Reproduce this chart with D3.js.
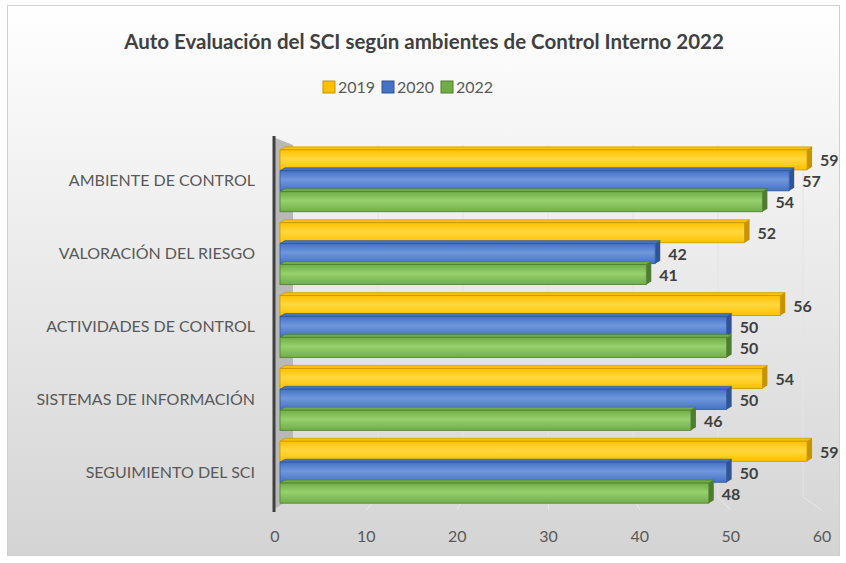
<!DOCTYPE html>
<html>
<head>
<meta charset="utf-8">
<script src="https://cdn.jsdelivr.net/npm/d3@7"></script>
<style>
  body { margin: 0; background: #fff; }
  svg { display: block; font-family: Lato, "Open Sans", sans-serif; }
</style>
</head>
<body>
<svg width="846" height="563"></svg>
<script>
var categories = ["AMBIENTE DE CONTROL", "VALORACIÓN DEL RIESGO", "ACTIVIDADES DE CONTROL",
                  "SISTEMAS DE INFORMACIÓN", "SEGUIMIENTO DEL SCI"];
var seriesNames = ["2019", "2020", "2022"];
var values2019 = [59, 52, 56, 54, 59];
var values2020 = [57, 42, 50, 50, 50];
var values2022 = [54, 41, 50, 46, 48];
var tickValues = [0, 10, 20, 30, 40, 50, 60];

var seriesValues = [values2019, values2020, values2022];

var colors = {
  "2019": { light: "#ffd83f", main: "#ffc000", edge: "#c79400" },
  "2020": { light: "#6f97dc", main: "#4472c4", edge: "#2f5597" },
  "2022": { light: "#97d06e", main: "#70ad47", edge: "#4e7d30" }
};

var svg = d3.select("svg");
var defs = svg.append("defs");

// background gradient like the excel chart area
var bg = defs.append("linearGradient").attr("id", "bg")
  .attr("x1", 0).attr("y1", 0).attr("x2", 0).attr("y2", 1);
bg.append("stop").attr("offset", "0%").attr("stop-color", "#ffffff");
bg.append("stop").attr("offset", "100%").attr("stop-color", "#d4d4d4");

seriesNames.forEach(function(s) {
  var g = defs.append("linearGradient").attr("id", "g" + s)
    .attr("x1", 0).attr("y1", 0).attr("x2", 0).attr("y2", 1);
  g.append("stop").attr("offset", "0%").attr("stop-color", colors[s].main);
  g.append("stop").attr("offset", "45%").attr("stop-color", colors[s].light);
  g.append("stop").attr("offset", "100%").attr("stop-color", colors[s].main);
});

svg.append("rect")
  .attr("x", 7.5).attr("y", 5.5).attr("width", 832).attr("height", 550)
  .attr("fill", "url(#bg)")
  .attr("stroke", "#d0d0d0");

// scales: front plane for bars / labels, back plane for the wall gridlines
var x = d3.scaleLinear().domain([0, 60]).range([280, 816]);
var xLabel = d3.scaleLinear().domain([0, 60]).range([275, 822]);
var xBack = d3.scaleLinear().domain([0, 60]).range([293, 803]);

var y0 = d3.scaleBand().domain(categories).range([144, 509]).paddingInner(0.15).paddingOuter(0.08);
var y1 = d3.scaleBand().domain(seriesNames).range([0, y0.bandwidth()]).paddingInner(0.04);

var wallTop = 145, wallBottom = 497, floorFront = 510;

// back wall gridlines and floor lines
var grid = svg.append("g");
grid.selectAll("line.v")
  .data(tickValues.slice(1))
  .enter().append("line")
  .attr("x1", function(d) { return xBack(d); })
  .attr("x2", function(d) { return xBack(d); })
  .attr("y1", wallTop)
  .attr("y2", wallBottom)
  .attr("stroke", "#e4e4e4")
  .attr("stroke-width", 1);
grid.selectAll("line.f")
  .data(tickValues.slice(1))
  .enter().append("line")
  .attr("x1", function(d) { return xBack(d); })
  .attr("x2", function(d) { return xLabel(d); })
  .attr("y1", wallBottom)
  .attr("y2", floorFront)
  .attr("stroke", "#e8e8e8")
  .attr("stroke-width", 1);

// left side wall
svg.append("path")
  .attr("d", "M273,137 L293,145 L293," + wallBottom + " L273," + floorFront + " Z")
  .attr("fill", "#b8b8b8");
svg.append("line")
  .attr("x1", 274).attr("x2", 274).attr("y1", 136).attr("y2", 512)
  .attr("stroke", "#404040").attr("stroke-width", 3);

// bars
var depth = { dx: 5, dy: -3 };
var groups = svg.append("g").selectAll("g")
  .data(categories)
  .enter().append("g")
  .attr("transform", function(d) { return "translate(0," + y0(d) + ")"; });

groups.each(function(cat, ci) {
  var g = d3.select(this);
  var rows = seriesNames.map(function(s, si) {
    return { s: s, v: seriesValues[si][ci] };
  });
  rows.forEach(function(r) {
    var yy = y1(r.s), h = y1.bandwidth(), x0 = x(0), x1 = x(r.v);
    // top face
    g.append("path")
      .attr("d", "M" + x0 + "," + yy + " L" + (x0 + depth.dx) + "," + (yy + depth.dy) +
        " L" + (x1 + depth.dx) + "," + (yy + depth.dy) + " L" + x1 + "," + yy + " Z")
      .attr("fill", colors[r.s].main)
      .attr("stroke", colors[r.s].edge).attr("stroke-width", 0.6);
    // end face
    g.append("path")
      .attr("d", "M" + x1 + "," + yy + " L" + (x1 + depth.dx) + "," + (yy + depth.dy) +
        " L" + (x1 + depth.dx) + "," + (yy + h + depth.dy) + " L" + x1 + "," + (yy + h) + " Z")
      .attr("fill", colors[r.s].edge);
    // front face
    g.append("rect")
      .attr("x", x0).attr("y", yy)
      .attr("width", x1 - x0).attr("height", h)
      .attr("fill", "url(#g" + r.s + ")")
      .attr("stroke", colors[r.s].edge).attr("stroke-width", 0.8);
    // value label
    g.append("text")
      .attr("x", x1 + 13)
      .attr("y", yy + h / 2 + 1)
      .attr("dy", "0.35em")
      .attr("fill", "#404040")
      .style("font-size", "16px")
      .style("font-weight", "bold")
      .text(r.v);
  });
});

// category labels
svg.append("g").selectAll("text")
  .data(categories)
  .enter().append("text")
  .attr("x", 255)
  .attr("y", function(d) { return y0(d) + y0.bandwidth() / 2; })
  .attr("dy", "0.35em")
  .attr("text-anchor", "end")
  .attr("fill", "#595959")
  .style("font-size", "16px")
  .text(function(d) { return d; });

// x tick labels
svg.append("g").selectAll("text")
  .data(tickValues)
  .enter().append("text")
  .attr("x", function(d) { return xLabel(d); })
  .attr("y", 536)
  .attr("dy", "0.35em")
  .attr("text-anchor", "middle")
  .attr("fill", "#595959")
  .style("font-size", "16px")
  .text(function(d) { return d; });

// title
svg.append("text")
  .attr("x", 424).attr("y", 42)
  .attr("dy", "0.35em")
  .attr("text-anchor", "middle")
  .attr("fill", "#404040")
  .style("font-size", "20.5px")
  .style("font-weight", "bold")
  .text("Auto Evaluación del SCI según ambientes de Control Interno 2022");

// legend
var legendX = [323, 382, 441];
var legend = svg.append("g").selectAll("g")
  .data(seriesNames)
  .enter().append("g")
  .attr("transform", function(d, i) { return "translate(" + legendX[i] + ",81)"; });
legend.append("rect")
  .attr("width", 12).attr("height", 12)
  .attr("fill", function(d) { return colors[d].main; })
  .attr("stroke", function(d) { return colors[d].edge; });
legend.append("text")
  .attr("x", 15).attr("y", 6)
  .attr("dy", "0.35em")
  .attr("fill", "#595959")
  .style("font-size", "16px")
  .text(function(d) { return d; });
</script>
</body>
</html>
